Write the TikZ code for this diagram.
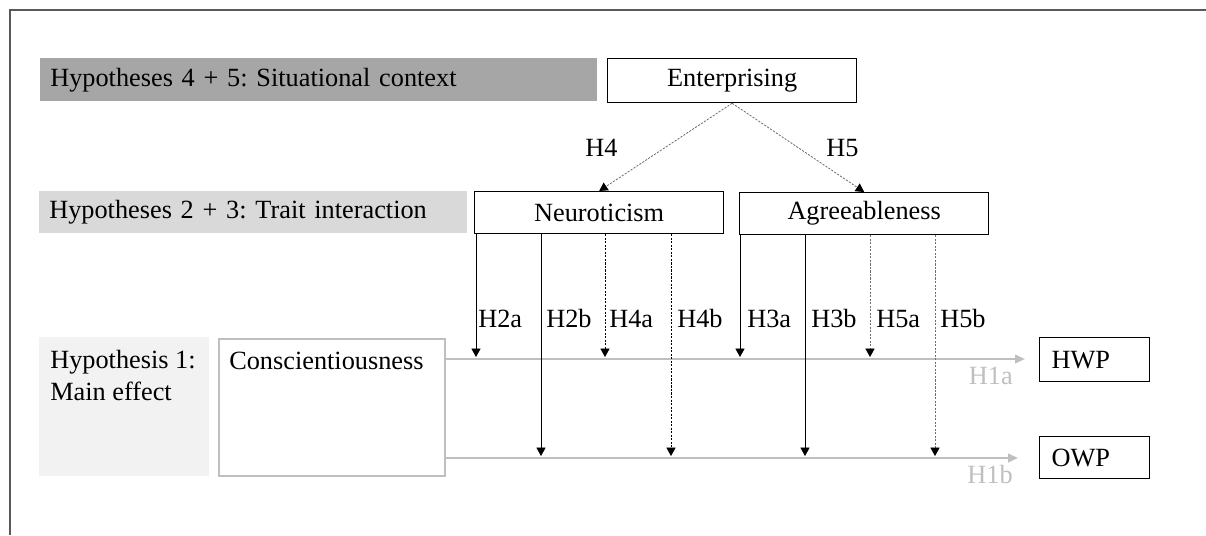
\documentclass[tikz,border=0pt]{standalone}
\usepackage{fontspec}
\setmainfont{Liberation Serif}
\usepackage{tikz}
\definecolor{darkband}{RGB}{166,166,166}
\definecolor{midband}{RGB}{217,217,217}
\definecolor{paleband}{RGB}{242,242,242}
\definecolor{lightgrey}{RGB}{191,191,191}
\definecolor{framegrey}{RGB}{89,89,89}
\definecolor{dashgrey}{RGB}{110,110,110}
\usetikzlibrary{arrows.meta}
\usetikzlibrary{positioning}
\frenchspacing

\begin{document}
\begin{tikzpicture}[x=0.025cm, y=-0.025cm]
        \tikzset{every node/.style={font=\fontsize{18.7}{22.5}\selectfont},
                band/.style={anchor=north west, inner xsep=0.25cm, inner ysep=0pt, align=left},
                box/.style={anchor=north west, draw=black, line width=0.9pt, inner sep=0pt, minimum width=6.225cm},
                outbox/.style={anchor=north west, draw=black, line width=0.9pt, inner xsep=0.3cm, inner ysep=0pt, text width=2.15cm, align=left},
                hyp/.style={anchor=base west, inner sep=0pt},
                moddash/.style={dash pattern=on 1.5pt off 1pt},
                mainarrow/.style={draw=lightgrey, line width=1.4pt, -{Triangle[lightgrey, length=7pt, width=6pt]}},
                >={Triangle[black, length=6pt, width=6.5pt]},
                every edge/.style={draw=black, line width=0.6pt}}

        \useasboundingbox (0,0) rectangle (1206,535);
        \draw[framegrey, line width=0.8pt] (1206,10) -- (10,10) -- (10,535);

        % levels
        \node[band, fill=darkband, text width=13.425cm, minimum height=1.075cm] (1) at (40,58) {Hypotheses 4 + 5: Situational context};
        \node[band, fill=midband, text width=10.2cm, minimum height=1.05cm] (2) at (39,191) {Hypotheses 2 + 3: Trait interaction};
        \node[band, fill=paleband, minimum width=4.25cm, minimum height=3.475cm, inner xsep=0pt] (3) at (39,337) {};
        \node[hyp, align=left] (3a) at (50,400) {Hypothesis 1:\\Main effect};

        % variables
        \node[box, minimum height=1.1cm] (4) at (607,58) {Enterprising};
        \node[box, minimum height=1.05cm] (5) at (474,191) {Neuroticism};
        \node[box, minimum height=1.05cm] (6) at (739,192) {Agreeableness};
        \node[anchor=north west, draw=lightgrey, line width=1.3pt, minimum width=5.65cm, minimum height=3.425cm] (7) at (218,338) {};
        \node[hyp] (7a) at (229,369) {Conscientiousness};
        \node[outbox, minimum height=1.1cm] (8) at (1039,337) {HWP};
        \node[outbox, minimum height=1.05cm] (9) at (1039,436) {OWP};

        \coordinate (e1) at (1025,359);
        \coordinate (e2) at (1018,458);
        \coordinate (p1) at (476,357);
        \coordinate (p2) at (541,456);
        \coordinate (p3) at (605,357);
        \coordinate (p4) at (671,456);
        \coordinate (p5) at (740,357);
        \coordinate (p6) at (805,456);
        \coordinate (p7) at (870,357);
        \coordinate (p8) at (935,456);

        \draw[mainarrow] (7.east |- e1) -- (e1);
        \draw[mainarrow] (7.east |- e2) -- (e2);
        \node[anchor=base east, inner sep=0pt, text=lightgrey] (h1a) at (1013,384) {H1a};
        \node[anchor=base east, inner sep=0pt, text=lightgrey] (h1b) at (1013,483) {H1b};

        \path [->] (4.south) edge[moddash, draw=dashgrey] (5.north);
        \path [->] (4.south) edge[moddash, draw=dashgrey] (6.north);
        \node[hyp] (h4) at (585,156) {H4};
        \node[hyp] (h5) at (826,156) {H5};

        \path [->] (5.south -| p1) edge (p1);
        \path [->] (5.south -| p2) edge (p2);
        \path [->] (5.south -| p3) edge[moddash] (p3);
        \path [->] (5.south -| p4) edge[moddash] (p4);
        \path [->] (6.south -| p5) edge (p5);
        \path [->] (6.south -| p6) edge (p6);
        \path [->] (6.south -| p7) edge[moddash, draw=dashgrey] (p7);
        \path [->] (6.south -| p8) edge[moddash, draw=dashgrey] (p8);

        \node[hyp] (h2a) at (478,327) {H2a};
        \node[hyp] (h2b) at (546,327) {H2b};
        \node[hyp] (h4a) at (609,327) {H4a};
        \node[hyp] (h4b) at (677,327) {H4b};
        \node[hyp] (h3a) at (747,327) {H3a};
        \node[hyp] (h3b) at (811,327) {H3b};
        \node[hyp] (h5a) at (876,327) {H5a};
        \node[hyp] (h5b) at (940,327) {H5b};

    \end{tikzpicture}
\end{document}
